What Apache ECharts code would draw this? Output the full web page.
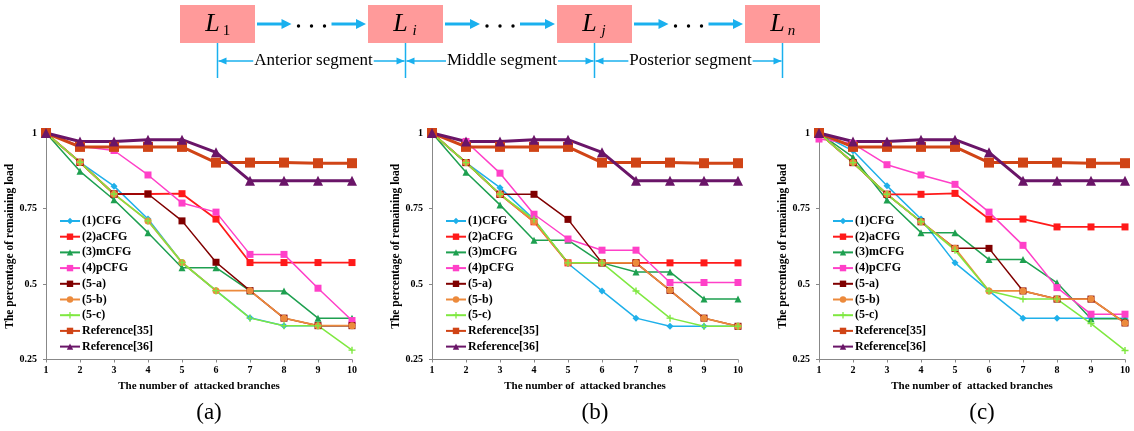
<!DOCTYPE html>
<html>
<head>
    <meta charset="UTF-8">
    <title>Remaining load vs attacked branches</title>
    <script type="text/javascript" src="https://cdn.jsdelivr.net/npm/echarts@6/dist/echarts.min.js"></script>
</head>
<body style="margin:0;overflow:hidden;background:#fff;">
<div id="chart" style="width:1134px;height:431px;"></div>
<script type="text/javascript">
    // x values and legend names
    var branches = [1, 2, 3, 4, 5, 6, 7, 8, 9, 10];
    var seriesNames = ['(1)CFG', '(2)aCFG', '(3)mCFG', '(4)pCFG', '(5-a)', '(5-b)', '(5-c)', 'Reference[35]', 'Reference[36]'];
    var panelLabels = ['(a)', '(b)', '(c)'];

    // panel (a)
    var cfgA = [1, 0.903, 0.824, 0.715, 0.571, 0.478, 0.388, 0.362, 0.362, 0.362];
    var acfgA = [1, 0.903, 0.798, 0.798, 0.799, 0.715, 0.571, 0.571, 0.571, 0.571];
    var mcfgA = [1, 0.873, 0.779, 0.670, 0.554, 0.554, 0.477, 0.477, 0.387, 0.387];
    var pcfgA = [1, 0.956, 0.942, 0.861, 0.768, 0.738, 0.598, 0.598, 0.486, 0.379];
    var s5aA = [1, 0.903, 0.798, 0.798, 0.709, 0.572, 0.478, 0.387, 0.362, 0.362];
    var s5bA = [1, 0.903, 0.798, 0.709, 0.571, 0.478, 0.478, 0.387, 0.362, 0.362];
    var s5cA = [1, 0.903, 0.798, 0.709, 0.571, 0.478, 0.387, 0.362, 0.362, 0.281];

    // panel (b)
    var cfgB = [1, 0.902, 0.819, 0.714, 0.568, 0.477, 0.387, 0.360, 0.360, 0.360];
    var acfgB = [1, 0.902, 0.797, 0.706, 0.570, 0.570, 0.570, 0.570, 0.570, 0.570];
    var mcfgB = [1, 0.870, 0.762, 0.645, 0.645, 0.570, 0.540, 0.540, 0.450, 0.450];
    var pcfgB = [1, 0.972, 0.867, 0.731, 0.649, 0.612, 0.612, 0.505, 0.505, 0.505];
    var s5aB = [1, 0.902, 0.797, 0.797, 0.714, 0.570, 0.570, 0.479, 0.387, 0.360];
    var s5bB = [1, 0.902, 0.797, 0.706, 0.570, 0.570, 0.570, 0.479, 0.387, 0.360];
    var s5cB = [1, 0.902, 0.797, 0.714, 0.570, 0.570, 0.477, 0.387, 0.360, 0.360];

    // panel (c)
    var cfgC = [1, 0.941, 0.825, 0.715, 0.570, 0.477, 0.387, 0.387, 0.387, 0.387];
    var acfgC = [1, 0.902, 0.797, 0.797, 0.800, 0.715, 0.715, 0.689, 0.689, 0.689];
    var mcfgC = [1, 0.920, 0.778, 0.670, 0.670, 0.581, 0.581, 0.504, 0.385, 0.385];
    var pcfgC = [0.980, 0.965, 0.895, 0.861, 0.830, 0.738, 0.628, 0.488, 0.400, 0.400];
    var s5aC = [1, 0.902, 0.797, 0.706, 0.618, 0.618, 0.477, 0.450, 0.450, 0.371];
    var s5bC = [1, 0.902, 0.797, 0.706, 0.618, 0.477, 0.477, 0.450, 0.450, 0.371];
    var s5cC = [1, 0.902, 0.797, 0.706, 0.612, 0.477, 0.450, 0.450, 0.369, 0.280];

    // reference methods, same in all panels
    var ref35 = [1, 0.954, 0.954, 0.954, 0.954, 0.902, 0.902, 0.902, 0.900, 0.900];
    var ref36 = [1, 0.972, 0.972, 0.978, 0.978, 0.936, 0.842, 0.842, 0.842, 0.842];

    var panels = [
        [cfgA, acfgA, mcfgA, pcfgA, s5aA, s5bA, s5cA, ref35, ref36],
        [cfgB, acfgB, mcfgB, pcfgB, s5aB, s5bB, s5cB, ref35, ref36],
        [cfgC, acfgC, mcfgC, pcfgC, s5aC, s5bC, s5cC, ref35, ref36]
    ];

    var plus = 'path://M4,0H6V4H10V6H6V10H4V6H0V4H4Z';
    var looks = [
        {color: '#1fb0ea', symbol: 'diamond', size: 7, width: 1.5},
        {color: '#ff1a1a', symbol: 'rect', size: 7, width: 1.8},
        {color: '#1ea050', symbol: 'triangle', size: 7, width: 1.5},
        {color: '#ff40c8', symbol: 'rect', size: 7, width: 1.5},
        {color: '#800000', symbol: 'rect', size: 7, width: 1.5},
        {color: '#ec8a3c', symbol: 'circle', size: 7, width: 1.8},
        {color: '#7fe840', symbol: plus, size: 7, width: 1.5},
        {color: '#d04416', symbol: 'rect', size: 10, width: 3},
        {color: '#6a1568', symbol: 'triangle', size: 10, width: 3}
    ];

    var serif = 'Liberation Serif';
    var gridLeft = [46, 432, 819];
    var gridWidth = 306;
    var legendLeft = [59, 445, 832];
    var nameGap = [27, 26, 25];

    var grids = [], xAxes = [], yAxes = [], legends = [], series = [];
    panels.forEach(function (rows, p) {
        grids.push({left: gridLeft[p], width: gridWidth, top: 133, height: 226.5});
        xAxes.push({
            type: 'value', gridIndex: p, min: 1, max: 10, interval: 1,
            name: 'The number of  attacked branches', nameLocation: 'middle', nameGap: 19,
            nameTextStyle: {fontFamily: serif, fontWeight: 'bold', fontSize: 11, color: '#000'},
            axisLine: {lineStyle: {color: '#888', width: 1}},
            axisTick: {show: true, length: 3, lineStyle: {color: '#888'}},
            axisLabel: {fontFamily: serif, fontWeight: 'bold', fontSize: 10, color: '#000', margin: 6},
            splitLine: {show: false}
        });
        yAxes.push({
            type: 'value', gridIndex: p, min: 0.25, max: 1, interval: 0.25,
            name: 'The percentage of remaining load', nameLocation: 'middle', nameGap: nameGap[p],
            nameTextStyle: {fontFamily: serif, fontWeight: 'bold', fontSize: 11.5, color: '#000'},
            axisLine: {show: true, lineStyle: {color: '#888', width: 1}},
            axisTick: {show: true, length: 3, lineStyle: {color: '#888'}},
            axisLabel: {fontFamily: serif, fontWeight: 'bold', fontSize: 10, color: '#000', margin: 9},
            splitLine: {show: false}
        });
        legends.push({
            orient: 'vertical', left: legendLeft[p], top: 215, padding: 0,
            itemWidth: 20, itemHeight: 8, itemGap: 3.7, selectedMode: false,
            data: seriesNames,
            textStyle: {fontFamily: serif, fontWeight: 'bold', fontSize: 12, color: '#000', lineHeight: 12, padding: [0, 0, 0, -3]}
        });
        rows.forEach(function (vals, k) {
            var lk = looks[k];
            series.push({
                name: seriesNames[k], type: 'line', xAxisIndex: p, yAxisIndex: p,
                data: branches.map(function (x, i) { return [x, vals[i]]; }),
                symbol: lk.symbol, symbolSize: lk.size, showAllSymbol: true,
                lineStyle: {color: lk.color, width: lk.width},
                itemStyle: {color: lk.color}
            });
        });
    });

    // top schematic
    var blue = '#1ab0ee';
    var boxX = [180, 368, 557, 745];
    var boxW = 75, boxH = 38, boxY = 5;
    var subs = ['1', 'i', 'j', 'n'];
    var graphics = [];
    boxX.forEach(function (bx, i) {
        var cx = bx + boxW / 2;
        graphics.push({type: 'rect', shape: {x: bx, y: boxY, width: boxW, height: boxH}, style: {fill: '#ff9a9a'}});
        graphics.push({type: 'text', x: cx - 5, y: 24, style: {text: 'L', fontFamily: serif, fontStyle: 'italic', fontSize: 26, fill: '#000', align: 'center', verticalAlign: 'middle'}});
        graphics.push({type: 'text', x: cx + 9, y: 31, style: {text: subs[i], fontFamily: serif, fontStyle: i === 0 ? 'normal' : 'italic', fontSize: 15, fill: '#000', align: 'center', verticalAlign: 'middle'}});
        graphics.push({type: 'line', shape: {x1: cx, y1: boxY + boxH, x2: cx, y2: 78}, style: {stroke: blue, lineWidth: 1.5}});
        if (i < boxX.length - 1) {
            var x0 = bx + boxW + 2, x1 = boxX[i + 1] - 2;
            var mid = (x0 + x1) / 2;
            [[x0, mid - 20], [mid + 20, x1]].forEach(function (seg) {
                graphics.push({type: 'line', shape: {x1: seg[0], y1: 24, x2: seg[1] - 8, y2: 24}, style: {stroke: blue, lineWidth: 3}});
                graphics.push({type: 'polygon', shape: {points: [[seg[1] - 10, 19], [seg[1], 24], [seg[1] - 10, 29]]}, style: {fill: blue}});
            });
            [-13, 0, 13].forEach(function (d) {
                graphics.push({type: 'circle', shape: {cx: mid + d, cy: 26, r: 1.7}, style: {fill: '#000'}});
            });
        }
    });
    var segNames = ['Anterior segment', 'Middle segment', 'Posterior segment'];
    segNames.forEach(function (t, i) {
        var xa = boxX[i] + boxW / 2, xb = boxX[i + 1] + boxW / 2;
        graphics.push({type: 'line', shape: {x1: xa + 1, y1: 61, x2: xb - 1, y2: 61}, style: {stroke: blue, lineWidth: 1.5}});
        graphics.push({type: 'polygon', shape: {points: [[xa + 1, 61], [xa + 9, 57.5], [xa + 9, 64.5]]}, style: {fill: blue}});
        graphics.push({type: 'polygon', shape: {points: [[xb - 1, 61], [xb - 9, 57.5], [xb - 9, 64.5]]}, style: {fill: blue}});
        graphics.push({type: 'text', x: (xa + xb) / 2 + 2, y: 61, style: {text: t, fontFamily: serif, fontSize: 17, fill: '#000', align: 'center', verticalAlign: 'middle', backgroundColor: '#fff', padding: [0, 1]}});
    });
    panelLabels.forEach(function (t, p) {
        graphics.push({type: 'text', x: gridLeft[p] + gridWidth / 2 + 10, y: 413, style: {text: t, fontFamily: serif, fontSize: 23, fill: '#000', align: 'center', verticalAlign: 'middle'}});
    });

    var chart = echarts.init(document.getElementById('chart'));
    chart.setOption({
        animation: false,
        backgroundColor: '#fff',
        grid: grids,
        xAxis: xAxes,
        yAxis: yAxes,
        legend: legends,
        series: series,
        graphic: graphics
    });
</script>
</body>
</html>
